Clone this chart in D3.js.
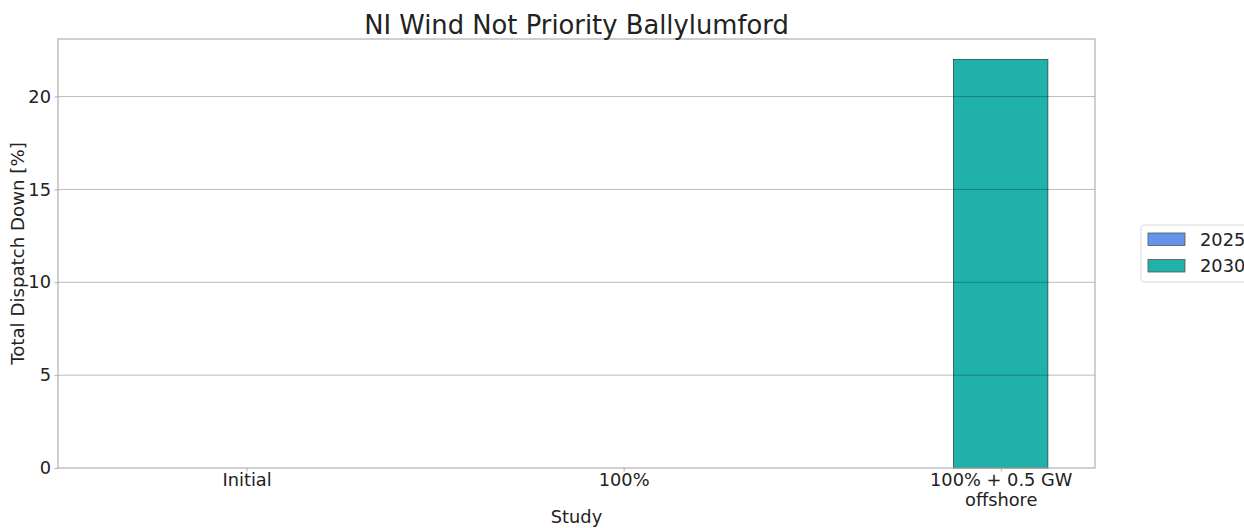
<!DOCTYPE html>
<html>
<head>
<meta charset="utf-8">
<script src="https://cdn.jsdelivr.net/npm/d3@7"></script>
<style>
  html, body { margin: 0; padding: 0; background: #fff; }
  svg { display: block; font-family: "DejaVu Sans", sans-serif; }
</style>
</head>
<body>
<svg id="chart" width="1244" height="528"></svg>
<script>
// Study scenarios along the x axis
const categories = ["Initial", "100%", "100% + 0.5 GW\noffshore"];
// Total dispatch down per study year [%]
const years = ["2025", "2030"];
const values2025 = [0, 0, 0];
const values2030 = [0, 0, 22];
const yTicks = [0, 5, 10, 15, 20];

const colors = { "2025": "#6495ED", "2030": "#20B2AA" };
const series = [
  { key: "2025", values: values2025, offset: -0.25 },
  { key: "2030", values: values2030, offset: 0 }
];
const barWidth = 0.25;

const svg = d3.select("#chart");
const margin = { left: 58, right: 149, top: 39, bottom: 60 };
const W = 1244, H = 528;
const x0 = margin.left, x1 = W - margin.right;
const y0 = H - margin.bottom, y1 = margin.top;

// Numeric x axis: categories sit at 0, 1, 2 with matplotlib-style padding
const x = d3.scaleLinear().domain([-0.5, 2.25]).range([x0, x1]);
const yMax = d3.max(values2030.concat(values2025)) * 1.05;
const y = d3.scaleLinear().domain([0, yMax]).range([y0, y1]);

const textColor = "#222";
const fontSize = 17.8;

// Bars
series.forEach(s => {
  svg.append("g").selectAll("rect")
    .data(s.values)
    .join("rect")
    .attr("x", (d, i) => x(i + s.offset - barWidth / 2))
    .attr("width", x(barWidth) - x(0))
    .attr("y", d => y(d))
    .attr("height", d => y(0) - y(d))
    .attr("fill", colors[s.key])
    .attr("stroke", d => d > 0 ? "#1b4f4b" : "none")
    .attr("stroke-width", 0.8);
});

// Horizontal grid lines above the bars
svg.append("g")
  .selectAll("line")
  .data(yTicks.filter(t => t > 0))
  .join("line")
  .attr("x1", x0).attr("x2", x1)
  .attr("y1", d => y(d)).attr("y2", d => y(d))
  .attr("stroke", "#000").attr("stroke-opacity", 0.3).attr("stroke-width", 0.9);

// Y axis
const yAxis = d3.axisLeft(y).tickValues(yTicks).tickSize(3.5).tickPadding(3.5).tickFormat(d3.format("d"));
const gy = svg.append("g").attr("transform", `translate(${x0},0)`).call(yAxis);
gy.select(".domain").remove();
gy.selectAll(".tick line").attr("stroke", "#b0b0b0");
gy.selectAll(".tick text").attr("fill", textColor).style("font-size", fontSize + "px")
  .style("font-family", "DejaVu Sans");

// X axis
const xAxis = d3.axisBottom(x).tickValues([0, 1, 2]).tickSize(3.5).tickPadding(3).tickFormat(() => "");
const gx = svg.append("g").attr("transform", `translate(0,${y0})`).call(xAxis);
gx.select(".domain").remove();
gx.selectAll(".tick line").attr("stroke", "#b0b0b0");
gx.selectAll(".tick").each(function(d, i) {
  const lines = categories[i].split("\n");
  const t = d3.select(this).append("text")
    .attr("fill", textColor)
    .attr("text-anchor", "middle")
    .style("font-size", fontSize + "px")
    .style("font-family", "DejaVu Sans");
  lines.forEach((ln, k) => {
    t.append("tspan").attr("x", 0).attr("y", 18 + k * 20.3).text(ln);
  });
});

// Plot frame
svg.append("rect")
  .attr("x", x0).attr("y", y1).attr("width", x1 - x0).attr("height", y0 - y1)
  .attr("fill", "none").attr("stroke", "#a8a8a8").attr("stroke-width", 1.1);

// Title
svg.append("text")
  .attr("x", (x0 + x1) / 2).attr("y", 34)
  .attr("text-anchor", "middle")
  .attr("fill", textColor)
  .style("font-size", "25.8px")
  .text("NI Wind Not Priority Ballylumford");

// Axis titles
svg.append("text")
  .attr("x", (x0 + x1) / 2).attr("y", 523)
  .attr("text-anchor", "middle")
  .attr("fill", textColor)
  .style("font-size", fontSize + "px")
  .text("Study");

svg.append("text")
  .attr("transform", `translate(24,${(y0 + y1) / 2}) rotate(-90)`)
  .attr("text-anchor", "middle")
  .attr("fill", textColor)
  .style("font-size", "18.2px")
  .text("Total Dispatch Down [%]");

// Legend
const lg = svg.append("g").attr("transform", "translate(1141,225)");
lg.append("rect")
  .attr("x", 0).attr("y", 0).attr("width", 120).attr("height", 57)
  .attr("rx", 3).attr("fill", "#fff").attr("stroke", "#d8d8d8").attr("stroke-width", 1);
years.forEach((yr, i) => {
  const row = lg.append("g").attr("transform", `translate(7,${8 + i * 26.5})`);
  row.append("rect")
    .attr("x", 0).attr("y", 0).attr("width", 37).attr("height", 12.5)
    .attr("fill", colors[yr]).attr("stroke", "#555").attr("stroke-width", 0.8);
  row.append("text")
    .attr("x", 52).attr("y", 12.5)
    .attr("fill", textColor)
    .style("font-size", fontSize + "px")
    .text(yr);
});
</script>
</body>
</html>
